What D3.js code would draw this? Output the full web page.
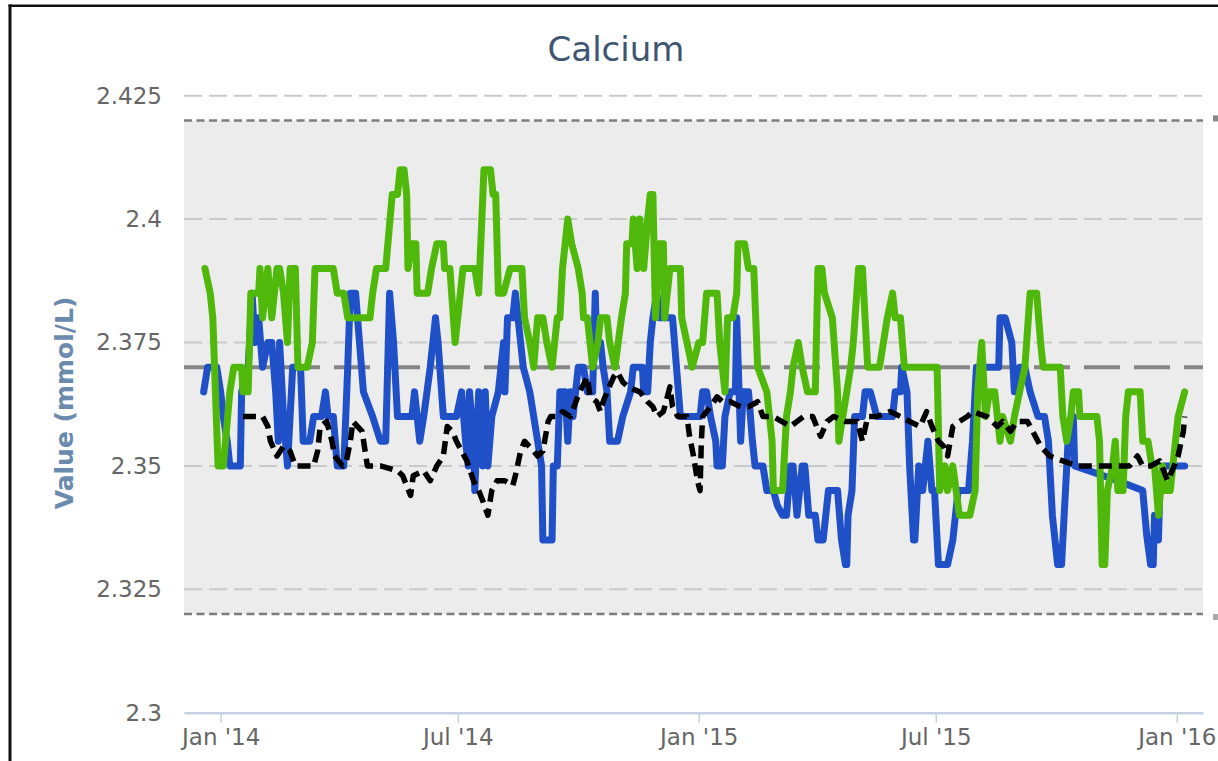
<!DOCTYPE html>
<html><head><meta charset="utf-8">
<script src="https://cdn.jsdelivr.net/npm/d3@7"></script>
<style>
body{margin:0;background:#fff;}
svg{display:block;font-family:"DejaVu Sans",sans-serif;}
</style>
</head><body>
<svg id="chart" width="1218" height="761"></svg>
<script>
// ---------- DATA ----------
const chartTitle = "Calcium";
const yAxisTitle = "Value (mmol/L)";
const yTicks = [2.3, 2.325, 2.35, 2.375, 2.4, 2.425];
const yTickLabels = ["2.3", "2.325", "2.35", "2.375", "2.4", "2.425"];
const xTickDates = ["2014-01-01", "2014-07-01", "2015-01-01", "2015-07-01", "2016-01-01"];
const xTickLabels = ["Jan '14", "Jul '14", "Jan '15", "Jul '15", "Jan '16"];
const xRange = ["2013-12-04", "2016-01-21"];
const refLow = 2.32, refHigh = 2.42, targetValue = 2.37;

// x values are day offsets from 2014-01-01
const greenDays = [-12,-8,-6,-2,2,7,10,16,17,21,
 23,29,30,32,36,39,43,45,48,51,
 53,57,59,66,70,72,86,89,94,97,
 114,116,119,126,131,135,137,140,142,143,
 146,149,150,158,161,165,170,171,175,179,
 185,194,197,201,206,208,210,212,216,221,
 230,232,236,239,242,246,249,253,257,259,
 261,265,268,273,276,277,280,284,288,290,
 295,297,301,306,309,310,314,315,318,320,
 323,326,328,330,332,335,338,339,343,351,
 352,356,360,365,368,371,379,381,385,387,
 391,394,395,400,403,407,410,417,421,422,
 429,432,435,437,441,444,448,454,456,459,
 461,467,471,472,475,481,483,487,490,494,
 503,506,509,513,515,519,522,547,549,553,
 555,559,564,572,576,578,581,584,587,591,
 595,597,603,606,610,614,618,623,626,628,
 641,643,646,649,651,655,656,669,671,673,
 675,677,681,683,685,689,691,693,702,704,
 708,711,713,716,719,721,725,729,731,736];
const greenValues = [2.39,2.385,2.38,2.35,2.35,2.365,2.37,2.37,2.365,2.365,
 2.385,2.385,2.39,2.38,2.39,2.38,2.39,2.39,2.385,2.375,
 2.39,2.39,2.37,2.37,2.375,2.39,2.39,2.385,2.385,2.38,
 2.38,2.385,2.39,2.39,2.405,2.405,2.41,2.41,2.405,2.39,
 2.395,2.395,2.385,2.385,2.39,2.395,2.395,2.39,2.39,2.375,
 2.39,2.39,2.385,2.41,2.41,2.405,2.405,2.385,2.385,2.39,
 2.39,2.38,2.375,2.37,2.38,2.38,2.375,2.37,2.38,2.38,
 2.39,2.40,2.395,2.39,2.385,2.38,2.38,2.37,2.375,2.38,
 2.38,2.375,2.37,2.38,2.385,2.395,2.395,2.40,2.39,2.40,
 2.39,2.40,2.405,2.405,2.38,2.395,2.395,2.38,2.39,2.39,
 2.38,2.375,2.37,2.375,2.375,2.385,2.385,2.375,2.365,2.38,
 2.38,2.385,2.395,2.395,2.39,2.39,2.37,2.365,2.355,2.345,
 2.345,2.36,2.365,2.37,2.375,2.37,2.365,2.365,2.39,2.39,
 2.385,2.38,2.365,2.355,2.36,2.37,2.375,2.39,2.39,2.37,
 2.37,2.375,2.38,2.385,2.38,2.38,2.37,2.37,2.345,2.35,
 2.345,2.35,2.34,2.34,2.345,2.365,2.375,2.36,2.365,2.365,
 2.355,2.36,2.355,2.36,2.365,2.37,2.385,2.385,2.375,2.37,
 2.37,2.36,2.355,2.36,2.365,2.365,2.36,2.36,2.355,2.33,
 2.33,2.345,2.35,2.355,2.345,2.345,2.36,2.365,2.365,2.355,
 2.355,2.35,2.35,2.34,2.35,2.345,2.345,2.355,2.36,2.365];

const blueDays = [-13,-10,-3,0,2,5,7,15,16,21,
 24,26,29,32,36,39,42,44,45,48,
 51,53,55,61,63,68,71,77,80,82,
 86,89,94,97,99,103,106,109,116,122,
 126,128,129,132,135,146,148,152,155,160,
 164,166,170,180,184,187,189,190,193,194,
 197,200,202,204,207,212,216,217,219,223,
 225,229,231,236,239,242,245,246,253,254,
 257,259,263,265,267,269,273,277,280,284,
 286,287,290,292,295,297,303,307,313,315,
 322,323,326,328,330,333,335,345,351,366,
 368,371,374,378,379,383,385,389,393,394,
 397,399,403,406,408,414,417,422,425,429,
 432,435,437,440,444,446,449,454,456,460,
 464,471,474,477,478,479,482,484,490,492,
 496,501,513,515,519,520,524,526,529,530,
 533,536,538,540,543,545,548,555,559,563,
 571,574,577,594,595,599,604,606,610,614,
 618,624,629,632,635,639,642,645,647,651,
 652,685,704,707,710,712,713,716,717,720,
 736];
const blueValues = [2.365,2.37,2.37,2.365,2.36,2.355,2.35,2.35,2.365,2.37,
 2.385,2.375,2.38,2.37,2.375,2.375,2.365,2.355,2.375,2.36,
 2.35,2.36,2.37,2.37,2.355,2.355,2.36,2.36,2.365,2.36,
 2.36,2.35,2.35,2.37,2.385,2.385,2.375,2.365,2.36,2.355,
 2.355,2.375,2.385,2.375,2.36,2.36,2.365,2.355,2.36,2.37,
 2.38,2.375,2.36,2.36,2.365,2.355,2.35,2.365,2.355,2.345,
 2.365,2.35,2.365,2.35,2.36,2.365,2.375,2.365,2.38,2.38,
 2.385,2.375,2.37,2.365,2.36,2.355,2.35,2.335,2.335,2.35,
 2.35,2.365,2.365,2.355,2.365,2.36,2.37,2.37,2.365,2.365,
 2.385,2.375,2.375,2.37,2.365,2.355,2.355,2.36,2.365,2.37,
 2.37,2.365,2.365,2.375,2.38,2.385,2.38,2.38,2.36,2.36,
 2.365,2.365,2.36,2.355,2.35,2.35,2.36,2.365,2.365,2.38,
 2.355,2.365,2.365,2.355,2.35,2.35,2.345,2.345,2.342,2.34,
 2.34,2.35,2.35,2.34,2.35,2.35,2.34,2.34,2.335,2.335,
 2.345,2.345,2.335,2.33,2.33,2.34,2.345,2.36,2.36,2.365,
 2.365,2.36,2.36,2.365,2.365,2.37,2.365,2.35,2.335,2.335,
 2.35,2.345,2.35,2.355,2.345,2.345,2.33,2.33,2.335,2.345,
 2.345,2.355,2.37,2.37,2.38,2.38,2.375,2.365,2.37,2.37,
 2.365,2.36,2.36,2.355,2.34,2.33,2.33,2.345,2.355,2.36,
 2.35,2.347,2.345,2.336,2.33,2.33,2.34,2.335,2.345,2.35,
 2.35];

const blackDays = [17,32,36,38,43,48,53,57,71,74,
 76,81,85,87,93,96,99,101,108,112,
 122,135,139,145,147,155,160,165,170,173,
 177,180,188,193,197,200,204,207,211,217,
 223,225,229,232,239,242,246,250,252,258,
 261,267,274,280,282,287,290,292,295,300,
 303,307,311,320,326,330,333,338,343,345,
 349,356,358,361,364,366,367,368,374,379,
 383,389,397,403,410,414,422,435,445,452,
 458,463,468,477,486,490,494,501,511,519,
 526,534,539,543,548,552,555,559,564,570,
 574,585,593,597,603,608,616,620,626,633,
 643,654,664,674,685,694,700,704,710,717,
 723,728,731,735,736];
const blackValues = [2.36,2.36,2.358,2.355,2.352,2.354,2.353,2.35,2.35,2.353,
 2.358,2.359,2.355,2.352,2.35,2.351,2.355,2.359,2.357,2.35,
 2.35,2.349,2.348,2.344,2.348,2.349,2.347,2.35,2.352,2.358,
 2.357,2.355,2.351,2.347,2.345,2.343,2.34,2.345,2.347,2.347,
 2.346,2.348,2.353,2.355,2.353,2.352,2.353,2.359,2.36,2.36,
 2.361,2.36,2.365,2.368,2.364,2.363,2.361,2.363,2.365,2.368,
 2.369,2.367,2.366,2.365,2.363,2.362,2.36,2.361,2.366,2.362,
 2.36,2.36,2.356,2.352,2.347,2.345,2.355,2.36,2.362,2.364,
 2.363,2.363,2.362,2.362,2.363,2.36,2.36,2.358,2.36,2.36,
 2.356,2.359,2.36,2.359,2.359,2.355,2.36,2.36,2.361,2.36,
 2.359,2.358,2.361,2.358,2.355,2.354,2.352,2.358,2.359,2.36,
 2.361,2.36,2.358,2.359,2.357,2.359,2.359,2.357,2.354,2.352,
 2.351,2.35,2.35,2.35,2.35,2.35,2.352,2.35,2.35,2.351,
 2.347,2.35,2.352,2.357,2.36];

// ---------- CHART ----------
const svg = d3.select("#chart");
const parse = d3.timeParse("%Y-%m-%d");
const dayToDate = d => new Date(2014, 0, 1 + d);

const x = d3.scaleTime().domain(xRange.map(parse)).range([184, 1203]);
const y = d3.scaleLinear().domain([2.3, 2.425]).range([712.7, 95.7]);
const plotL = 184, plotR = 1203;

// frame
svg.append("rect").attr("x", 8.5).attr("y", 4.5).attr("width", 1218).attr("height", 2.5).attr("fill", "#111");
svg.append("rect").attr("x", 8.5).attr("y", 4.5).attr("width", 3).attr("height", 761).attr("fill", "#111");

// plot band between reference limits
svg.append("rect")
  .attr("x", plotL).attr("width", plotR - plotL)
  .attr("y", y(refHigh)).attr("height", y(refLow) - y(refHigh))
  .attr("fill", "#ececec");

// grid lines
svg.append("g").selectAll("line")
  .data(yTicks.filter(v => v > 2.3))
  .join("line")
  .attr("x1", plotL).attr("x2", plotR)
  .attr("y1", d => y(d)).attr("y2", d => y(d))
  .attr("stroke", "#c9c9c9").attr("stroke-width", 2)
  .attr("stroke-dasharray", "18,7");

// reference limit lines
svg.append("g").selectAll("line")
  .data([refHigh, refLow])
  .join("line")
  .attr("x1", plotL).attr("x2", plotR)
  .attr("y1", d => y(d)).attr("y2", d => y(d))
  .attr("stroke", "#7d7d7d").attr("stroke-width", 2.5)
  .attr("stroke-dasharray", "8,4.5");

// small marks at right edge
svg.append("rect").attr("x", 1213).attr("y", y(refHigh) - 5).attr("width", 5).attr("height", 6).attr("fill", "#888");
svg.append("rect").attr("x", 1213).attr("y", y(refLow) + 0).attr("width", 5).attr("height", 6).attr("fill", "#aaa");

// target line
svg.append("line")
  .attr("x1", plotL).attr("x2", plotR)
  .attr("y1", y(targetValue)).attr("y2", y(targetValue))
  .attr("stroke", "#858585").attr("stroke-width", 4)
  .attr("stroke-dasharray", "36,14");

// y axis
const yAxis = d3.axisLeft(y).tickValues(yTicks)
  .tickFormat((d, i) => yTickLabels[i]).tickSize(0).tickPadding(22);
const gy = svg.append("g").attr("transform", `translate(${plotL},0)`).call(yAxis);
gy.select(".domain").remove();
gy.selectAll("text").attr("fill", "#666").style("font-size", "23px").style("font-family", "DejaVu Sans");

// x axis
const xAxis = d3.axisBottom(x).tickValues(xTickDates.map(parse))
  .tickFormat((d, i) => xTickLabels[i]).tickSizeInner(10).tickSizeOuter(0).tickPadding(6);
const gx = svg.append("g").attr("transform", `translate(0,${y(2.3)})`).call(xAxis);
gx.select(".domain").attr("stroke", "#c4d2e2").attr("stroke-width", 2.5);
gx.selectAll(".tick line").attr("stroke", "#c4d2e2").attr("stroke-width", 1.5);
gx.selectAll("text").attr("fill", "#666").style("font-size", "23px").style("font-family", "DejaVu Sans");

// title
svg.append("text").attr("x", 616).attr("y", 61).attr("text-anchor", "middle")
  .attr("fill", "#3f5673").style("font-size", "34px").text(chartTitle);

// y axis title
svg.append("text")
  .attr("transform", "translate(73,403) rotate(-90)")
  .attr("text-anchor", "middle")
  .attr("fill", "#6a8aae").style("font-size", "25px").style("font-weight", "bold")
  .text(yAxisTitle);

// series
const line = d3.line().x(d => x(d[0])).y(d => y(d[1]));
const toPts = (days, vals) => days.map((d, i) => [dayToDate(d), vals[i]]);

svg.append("path").datum(toPts(blueDays, blueValues))
  .attr("d", line).attr("fill", "none").attr("stroke", "#2050c8")
  .attr("stroke-width", 7).attr("stroke-linejoin", "round").attr("stroke-linecap", "round");

svg.append("path").datum(toPts(greenDays, greenValues))
  .attr("d", line).attr("fill", "none").attr("stroke", "#50b80a")
  .attr("stroke-width", 7).attr("stroke-linejoin", "round").attr("stroke-linecap", "round");

svg.append("path").datum(toPts(blackDays, blackValues))
  .attr("d", line).attr("fill", "none").attr("stroke", "#000")
  .attr("stroke-width", 5.5).attr("stroke-dasharray", "13,7").attr("stroke-linejoin", "round");
</script>
</body></html>
